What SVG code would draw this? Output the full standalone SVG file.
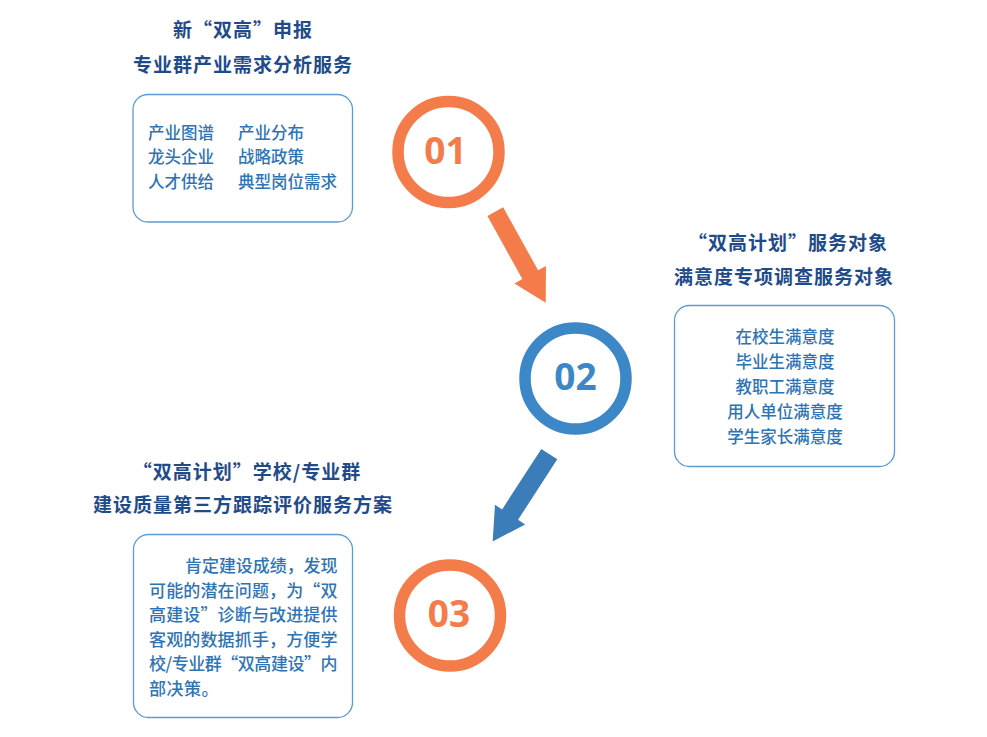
<svg xmlns="http://www.w3.org/2000/svg" width="987" height="737" viewBox="0 0 987 737">
<style>
.title{font-family:"Noto Sans CJK SC","Noto Sans",sans-serif;font-weight:700;font-size:19px;fill:#1F4B8A;letter-spacing:1px;text-anchor:middle}
.box{fill:#FFFFFF;stroke:#5B9BD5;stroke-width:1.3}
.body{font-family:"Noto Sans CJK SC","Noto Sans",sans-serif;font-weight:500;font-size:16.5px;fill:#2E74B5}
.ctr{text-anchor:middle}
.p{font-size:17px;letter-spacing:0.5px}
.ringO{fill:none;stroke:#F47B4A;stroke-width:11.5}
.ringB{fill:none;stroke:#3C87C7;stroke-width:11.5}
.num{font-family:"Open Sans","DejaVu Sans",sans-serif;font-weight:700;font-size:37px;text-anchor:middle}
</style>
<rect width="987" height="737" fill="#FFFFFF"/>

<g id="node1">
<text class="title" x="243" y="37">新“双高”申报</text>
<text class="title" x="243" y="72">专业群产业需求分析服务</text>
<rect class="box" x="133" y="94.5" width="219.5" height="127.5" rx="15"/>
<text class="body" x="148" y="139">产业图谱</text>
<text class="body" x="238" y="139">产业分布</text>
<text class="body" x="148" y="163">龙头企业</text>
<text class="body" x="238" y="163">战略政策</text>
<text class="body" x="148" y="188">人才供给</text>
<text class="body" x="238" y="188">典型岗位需求</text>
</g>

<g id="circle1">
<circle class="ringO" cx="448.5" cy="152" r="50.5"/>
<text class="num" x="445.5" y="163.5" fill="#F47B4A">01</text>
</g>

<g id="node2">
<text class="title" x="788" y="250">“双高计划”服务对象</text>
<text class="title" x="784" y="284">满意度专项调查服务对象</text>
<rect class="box" x="674.5" y="305.5" width="220" height="161" rx="15"/>
<text class="body ctr" x="785" y="343">在校生满意度</text>
<text class="body ctr" x="785" y="368">毕业生满意度</text>
<text class="body ctr" x="785" y="393">教职工满意度</text>
<text class="body ctr" x="785" y="418">用人单位满意度</text>
<text class="body ctr" x="785" y="443">学生家长满意度</text>
</g>

<g id="circle2">
<circle class="ringB" cx="575.5" cy="378.5" r="50.5"/>
<text class="num" x="575.5" y="390" fill="#3C87C7">02</text>
</g>

<g id="node3">
<text class="title" x="247" y="479">“双高计划”学校/专业群</text>
<text class="title" x="243" y="512">建设质量第三方跟踪评价服务方案</text>
<rect class="box" x="133.5" y="534.5" width="219" height="183" rx="15"/>
<text class="body p" x="185" y="571.5" textLength="153" lengthAdjust="spacing">肯定建设成绩，发现</text>
<text class="body p" x="149" y="596.5" textLength="189" lengthAdjust="spacing">可能的潜在问题，为“双</text>
<text class="body p" x="149" y="620.5" textLength="189" lengthAdjust="spacing">高建设”诊断与改进提供</text>
<text class="body p" x="149" y="645.5" textLength="189" lengthAdjust="spacing">客观的数据抓手，方便学</text>
<text class="body p" x="149" y="669.5" textLength="189" lengthAdjust="spacing">校/专业群“双高建设”内</text>
<text class="body p" x="149" y="694.5">部决策。</text>
</g>

<g id="circle3">
<circle class="ringO" cx="450" cy="615.5" r="50.5"/>
<text class="num" x="449" y="626.5" fill="#F47B4A">03</text>
</g>

<g id="connectors">
<polygon transform="translate(495.3,211.7) rotate(61)" points="0,-9 72,-9 72,-18 104,0 72,18 72,9 0,9" fill="#F47B4A"/>
<polygon transform="translate(549.3,454.2) rotate(123)" points="0,-9.5 72,-9.5 72,-18 104,0 72,18 72,9.5 0,9.5" fill="#3A7DB9"/>
</g>
</svg>
